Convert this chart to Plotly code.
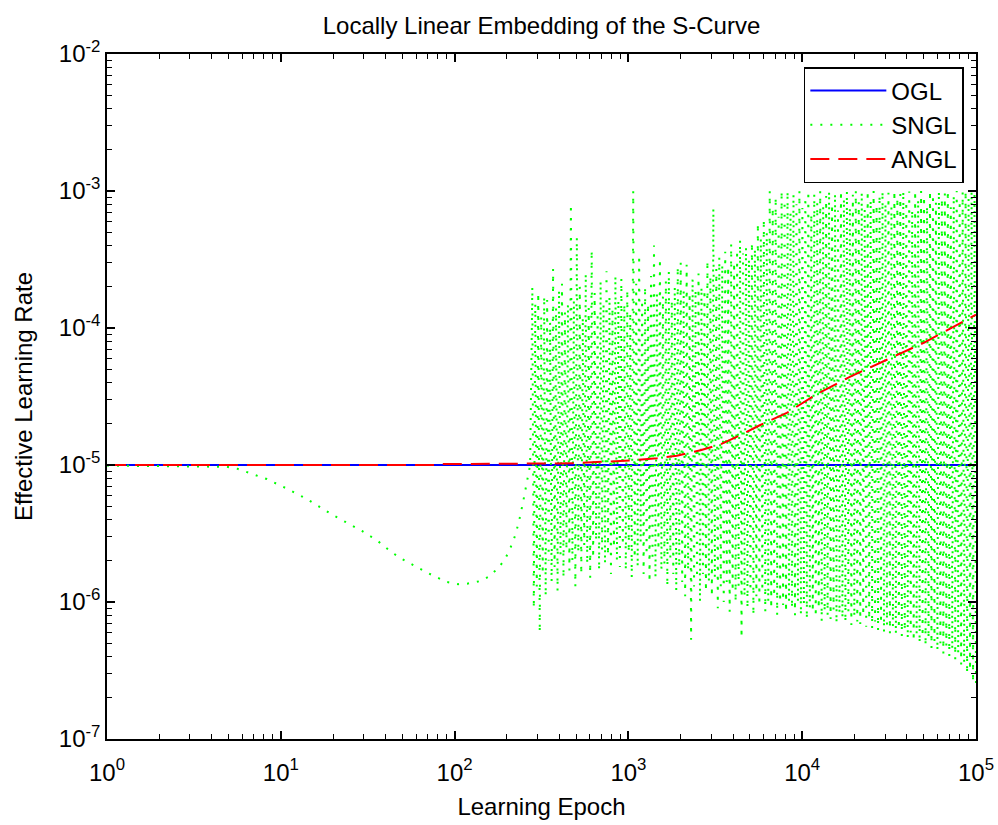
import numpy as np
import plotly.graph_objects as go

# ---------------- data ----------------
OGL_X = [1, 100000]
OGL_Y = [1e-5, 1e-5]

ANGL_X = [1, 80, 82, 150, 270, 310, 490, 690, 1020, 1460, 1900, 2600, 3400, 4400,
          5700, 8150, 12200, 18800, 32000, 50000, 68000, 100000]
ANGL_Y = [1e-5, 1e-5, 1.015e-5, 1.015e-5, 1.02e-5, 1.025e-5, 1.03e-5, 1.05e-5, 1.08e-5,
          1.12e-5, 1.17e-5, 1.28e-5, 1.42e-5, 1.65e-5, 1.95e-5, 2.4e-5, 3.3e-5, 4.4e-5,
          6.0e-5, 7.8e-5, 9.6e-5, 1.25e-4]

# smooth (pre-oscillation) part of SNGL
SNGL_SMOOTH_X = [1, 2, 3, 4.9, 5.6, 6.4, 8.3, 10.9, 14.1, 20, 25.7, 29.3, 36, 43.6, 49.8,
                 60, 70, 90, 105, 118, 140, 160, 180, 195, 210, 224, 236, 248, 260, 272]
SNGL_SMOOTH_Y = [9.9e-6, 9.8e-6, 9.8e-6, 9.7e-6, 9.4e-6, 8.9e-6, 7.9e-6, 6.7e-6, 5.65e-6,
                 4.3e-6, 3.6e-6, 3.3e-6, 2.8e-6, 2.3e-6, 2.06e-6, 1.8e-6, 1.63e-6, 1.4e-6,
                 1.35e-6, 1.36e-6, 1.42e-6, 1.55e-6, 1.8e-6, 2.05e-6, 2.5e-6, 3.1e-6,
                 4.0e-6, 5.4e-6, 7.2e-6, 1.0e-5]

# oscillating part of SNGL: epoch range and successive local maxima / minima
SNGL_OSC_START = 280
SNGL_OSC_END = 100000
SNGL_PEAKS = [
    2.0e-4, 1.5e-4, 1.8e-4, 1.2e-4, 1.7e-4,
    1.6e-4, 1.1e-4, 2.7e-4, 1.4e-4, 1.9e-4,
    2.1e-4, 1.3e-4, 1.5e-4, 8.0e-4, 1.6e-4,
    4.6e-4, 2.0e-4, 1.2e-4, 2.5e-4, 1.4e-4,
    3.7e-4, 1.8e-4, 1.3e-4, 2.2e-4, 1.5e-4,
    2.6e-4, 1.7e-4, 1.4e-4, 2.4e-4, 1.6e-4,
    2.3e-4, 1.5e-4, 1.9e-4, 1.3e-4, 1.0e-3,
    2.1e-4, 3.4e-4, 1.6e-4, 2.0e-4, 1.5e-4,
    2.4e-4, 4.0e-4, 1.8e-4, 3.2e-4, 1.7e-4,
    2.2e-4, 2.6e-4, 1.6e-4, 2.0e-4, 2.8e-4,
    3.0e-4, 1.9e-4, 2.9e-4, 1.8e-4, 2.3e-4,
    1.9e-4, 2.5e-4, 2.0e-4, 1.9e-4, 3.1e-4,
    2.4e-4, 7.5e-4, 2.7e-4, 3.3e-4, 2.9e-4,
    3.6e-4, 2.8e-4, 4.1e-4, 3.0e-4, 3.7e-4,
    4.4e-4, 3.5e-4, 3.9e-4, 3.2e-4, 4.2e-4,
    3.8e-4, 5.8e-4, 4.5e-4, 6.2e-4, 5.0e-4,
    1.0e-3, 7.5e-4, 9.0e-4, 6.5e-4, 1.0e-3,
    8.5e-4, 1.0e-3, 7.0e-4, 9.5e-4, 8.0e-4,
    1.0e-3, 7.5e-4, 9.0e-4, 1.0e-3, 6.8e-4,
    9.5e-4, 8.2e-4, 1.0e-3, 7.8e-4, 9.2e-4,
    1.0e-3, 8.0e-4, 9.6e-4, 7.2e-4, 1.0e-3,
    8.8e-4, 1.0e-3, 7.6e-4, 9.4e-4, 1.0e-3,
    8.3e-4, 9.8e-4, 7.4e-4, 1.0e-3, 8.6e-4,
    1.0e-3, 7.9e-4, 9.3e-4, 1.0e-3, 8.1e-4,
    9.7e-4, 7.7e-4, 1.0e-3, 8.9e-4, 9.5e-4,
    1.0e-3, 8.4e-4, 9.9e-4, 7.3e-4, 1.0e-3,
    8.7e-4, 1.0e-3, 9.1e-4, 7.8e-4, 1.0e-3,
    9.4e-4, 8.2e-4, 1.0e-3, 8.8e-4, 9.6e-4,
    1.0e-3, 7.6e-4, 9.3e-4, 1.0e-3, 8.5e-4,
    9.8e-4, 1.0e-3, 8.9e-4, 1.0e-3, 9.5e-4,
]
SNGL_TROUGHS = [
    9.0e-7, 1.3e-6, 6.0e-7, 1.6e-6, 1.1e-6,
    2.0e-6, 1.4e-6, 1.8e-6, 1.2e-6, 2.2e-6,
    1.5e-6, 2.4e-6, 1.7e-6, 2.0e-6, 1.3e-6,
    2.3e-6, 1.6e-6, 2.6e-6, 1.9e-6, 1.5e-6,
    2.1e-6, 2.8e-6, 1.7e-6, 2.4e-6, 1.9e-6,
    2.2e-6, 1.6e-6, 2.5e-6, 2.0e-6, 1.8e-6,
    2.6e-6, 1.7e-6, 2.3e-6, 1.5e-6, 2.1e-6,
    1.8e-6, 2.7e-6, 1.6e-6, 2.2e-6, 1.4e-6,
    2.0e-6, 1.5e-6, 2.4e-6, 1.7e-6, 1.9e-6,
    1.3e-6, 2.1e-6, 1.6e-6, 1.2e-6, 1.8e-6,
    1.4e-6, 1.1e-6, 1.7e-6, 5.3e-7, 1.3e-6,
    1.5e-6, 1.0e-6, 1.6e-6, 1.2e-6, 1.4e-6,
    1.1e-6, 1.5e-6, 9.0e-7, 1.3e-6, 1.0e-6,
    1.4e-6, 8.5e-7, 1.2e-6, 1.0e-6, 1.3e-6,
    5.5e-7, 1.1e-6, 9.0e-7, 1.2e-6, 8.0e-7,
    1.1e-6, 9.5e-7, 1.2e-6, 8.5e-7, 1.0e-6,
    9.0e-7, 1.1e-6, 8.0e-7, 1.0e-6, 9.5e-7,
    8.5e-7, 1.0e-6, 9.0e-7, 8.0e-7, 1.0e-6,
    8.0e-7, 9.5e-7, 7.5e-7, 9.0e-7, 8.5e-7,
    7.8e-7, 9.0e-7, 7.2e-7, 8.5e-7, 8.0e-7,
    7.5e-7, 8.8e-7, 7.0e-7, 8.2e-7, 7.6e-7,
    7.1e-7, 8.5e-7, 6.8e-7, 7.8e-7, 7.2e-7,
    6.9e-7, 8.0e-7, 6.6e-7, 7.5e-7, 6.4e-7,
    7.2e-7, 6.2e-7, 7.0e-7, 6.0e-7, 6.8e-7,
    5.9e-7, 6.6e-7, 5.8e-7, 6.4e-7, 5.6e-7,
    6.2e-7, 5.4e-7, 6.0e-7, 5.2e-7, 5.8e-7,
    5.0e-7, 5.6e-7, 4.8e-7, 5.4e-7, 4.6e-7,
    5.2e-7, 4.4e-7, 5.0e-7, 4.2e-7, 4.8e-7,
    4.0e-7, 4.5e-7, 3.8e-7, 4.2e-7, 3.5e-7,
    3.6e-7, 3.0e-7, 3.2e-7, 2.6e-7, 2.3e-7,
]

X_TICK_VALS = [1, 10, 100, 1000, 10000, 100000]
X_TICK_TEXT = ["10<sup>0</sup>", "10<sup>1</sup>", "10<sup>2</sup>",
               "10<sup>3</sup>", "10<sup>4</sup>", "10<sup>5</sup>"]
Y_TICK_VALS = [1e-7, 1e-6, 1e-5, 1e-4, 1e-3, 1e-2]
Y_TICK_TEXT = ["10<sup>-7</sup>", "10<sup>-6</sup>", "10<sup>-5</sup>",
               "10<sup>-4</sup>", "10<sup>-3</sup>", "10<sup>-2</sup>"]

# ---------------- build SNGL series ----------------
osc_y = []
for p, t in zip(SNGL_PEAKS, SNGL_TROUGHS):
    osc_y += [p, t]
osc_x = np.geomspace(SNGL_OSC_START, SNGL_OSC_END, len(osc_y))
sngl_x = list(SNGL_SMOOTH_X) + list(osc_x)
sngl_y = list(SNGL_SMOOTH_Y) + osc_y

FONT = "Liberation Sans, Arial, Helvetica, sans-serif"

fig = go.Figure()
fig.add_trace(go.Scatter(x=OGL_X, y=OGL_Y, mode="lines", name="OGL",
                         line=dict(color="#0000FF", width=2)))
fig.add_trace(go.Scatter(x=sngl_x, y=sngl_y, mode="lines", name="SNGL",
                         line=dict(color="#00FF00", width=2, dash="2px,8px")))
fig.add_trace(go.Scatter(x=ANGL_X, y=ANGL_Y, mode="lines", name="ANGL",
                         line=dict(color="#FF0000", width=2, dash="19px,9px")))
# empty trace that anchors the overlay axes carrying the minor ticks
fig.add_trace(go.Scatter(x=[], y=[], xaxis="x2", yaxis="y2", showlegend=False,
                         hoverinfo="skip"))

x_minor = [k * 10 ** d for d in range(5) for k in range(2, 10)]
y_minor = [k * 10.0 ** d for d in range(-7, -2) for k in range(2, 10)]

axis_common = dict(
    type="log", showgrid=False, zeroline=False, automargin=False,
    ticks="inside", ticklen=8, tickwidth=1.5, tickcolor="black",
    showline=True, linecolor="black", linewidth=1.5, mirror="ticks",
    tickfont=dict(family=FONT, size=24, color="black"),
)
minor_common = dict(
    type="log", showgrid=False, zeroline=False, showticklabels=False,
    automargin=False,
    ticks="inside", ticklen=5, tickwidth=1.2, tickcolor="black",
    showline=False, mirror="ticks", tickmode="array",
)

fig.update_layout(
    xaxis=dict(
        range=[0, 5], tickmode="array", tickvals=X_TICK_VALS, ticktext=X_TICK_TEXT,
        ticklabelstandoff=11,
        title=dict(text="Learning Epoch", font=dict(family=FONT, size=24, color="black"),
                   standoff=14),
        **axis_common,
    ),
    yaxis=dict(
        range=[-7, -2], tickmode="array", tickvals=Y_TICK_VALS, ticktext=Y_TICK_TEXT,
        title=dict(text="Effective Learning Rate",
                   font=dict(family=FONT, size=24, color="black"), standoff=19),
        **axis_common,
    ),
    xaxis2=dict(range=[0, 5], tickvals=x_minor, overlaying="x", anchor="y2",
                side="bottom", **minor_common),
    yaxis2=dict(range=[-7, -2], tickvals=y_minor, overlaying="y", anchor="x2",
                side="left", **minor_common),
)

fig.update_layout(
    width=998, height=825, autosize=False,
    margin=dict(l=107, r=22, t=54, b=86, pad=0),
    paper_bgcolor="white", plot_bgcolor="white",
    font=dict(family=FONT, size=24, color="black"),
    title=dict(text="Locally Linear Embedding of the S-Curve",
               font=dict(family=FONT, size=24, color="black"),
               x=(107 + 976) / 2 / 998, xanchor="center",
               y=1 - 26 / 825, yanchor="middle"),
    showlegend=True,
    legend=dict(x=0.986, y=0.981, xanchor="right", yanchor="top",
                bgcolor="white", bordercolor="black", borderwidth=1.5,
                font=dict(family=FONT, size=24, color="black"),
                itemwidth=76, entrywidth=180, tracegroupgap=0),
)

fig.write_html("out.html")
